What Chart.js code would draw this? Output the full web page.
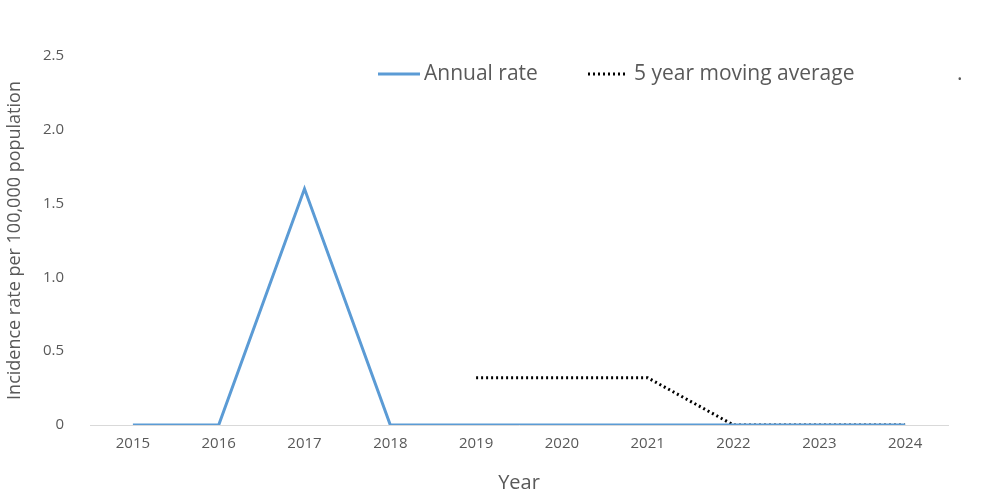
<!DOCTYPE html>
<html><head><meta charset="utf-8">
<script src="https://cdn.jsdelivr.net/npm/chart.js@4/dist/chart.umd.min.js"></script>
<style>body{margin:0;background:#fff}#wrap{width:1000px;height:499px}</style>
</head><body><div id="wrap"><canvas id="c"></canvas></div>
<script>
const years = ['2015','2016','2017','2018','2019','2020','2021','2022','2023','2024'];
const annualRate = [0, 0, 1.6, 0, 0, 0, 0, 0, 0, 0];
const movingAvg = [null, null, null, null, 0.32, 0.32, 0.32, 0, 0, 0];
const yTicks = [0, 0.5, 1, 1.5, 2, 2.5];

// legend drawn by hand to match the original placement
const legendPlugin = {
  id: 'manualLegend',
  afterDraw(chart) {
    const ctx = chart.ctx;
    ctx.save();
    ctx.font = '21px "Open Sans", Calibri, sans-serif';
    ctx.fillStyle = '#595959';
    ctx.textBaseline = 'middle';
    const y = 74;
    ctx.strokeStyle = '#5b9bd5'; ctx.lineWidth = 3;
    ctx.beginPath(); ctx.moveTo(378, y); ctx.lineTo(420, y); ctx.stroke();
    ctx.fillText('Annual rate', 424, y);
    ctx.strokeStyle = '#000'; ctx.setLineDash([2, 3]);
    ctx.beginPath(); ctx.moveTo(588, y); ctx.lineTo(628, y); ctx.stroke();
    ctx.setLineDash([]);
    ctx.fillText('5 year moving average', 634, y);
    ctx.fillText('.', 957, y);
    ctx.restore();
  }
};

new Chart(document.getElementById('c'), {
  type: 'line',
  data: {
    labels: years,
    datasets: [{
      label: 'Annual rate',
      data: annualRate,
      borderColor: '#5b9bd5',
      borderWidth: 3,
      pointRadius: 0,
      tension: 0
    }, {
      label: '5 year moving average',
      data: movingAvg,
      borderColor: '#000',
      borderWidth: 3,
      borderDash: [2, 3],
      pointRadius: 0,
      tension: 0
    }]
  },
  options: {
    responsive: true,
    maintainAspectRatio: false,
    animation: false,
    layout: { padding: { top: 56, right: 52, left: 0, bottom: 0 } },
    plugins: { legend: { display: false }, tooltip: { enabled: false } },
    scales: {
      x: {
        offset: true,
        grid: { display: false, drawTicks: false },
        border: { color: '#d9d9d9' },
        ticks: { color: '#595959', font: { size: 15, family: 'Open Sans' }, padding: 10, maxRotation: 0 },
        title: { display: true, text: 'Year', color: '#595959', font: { size: 20, family: 'Open Sans' }, padding: { top: 8 } },
        afterFit(s) { s.height = 74; }
      },
      y: {
        min: 0, max: 2.5,
        afterBuildTicks(s) { s.ticks = yTicks.map(v => ({ value: v })); },
        grid: { display: false },
        border: { display: false },
        ticks: { color: '#595959', font: { size: 15, family: 'Open Sans' }, padding: 18 },
        title: { display: true, text: 'Incidence rate per 100,000 population', color: '#595959', font: { size: 18, family: 'Open Sans' }, padding: { bottom: 0 } },
        afterFit(s) { s.width = 90; }
      }
    }
  },
  plugins: [legendPlugin]
});
</script></body></html>
